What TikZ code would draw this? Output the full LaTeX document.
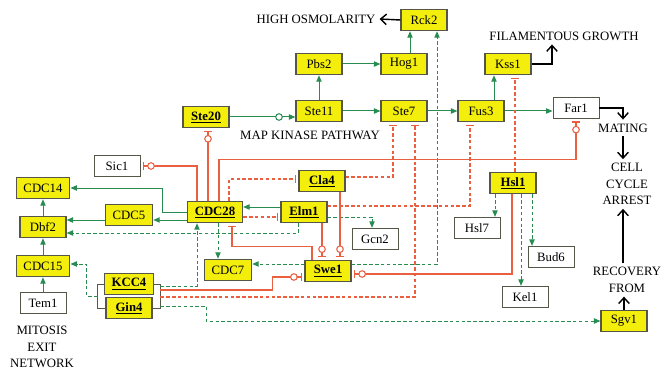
\documentclass[tikz,border=0pt]{standalone}
\usepackage{fontspec}
\setmainfont{Liberation Serif}
\usepackage{tikz}
\usetikzlibrary{positioning, calc, arrows.meta, decorations.markings}
\definecolor{genyellow}{RGB}{244,238,12}
\definecolor{boxgray}{RGB}{85,85,72}
\definecolor{actgreen}{RGB}{40,140,80}
\definecolor{inhred}{RGB}{235,95,65}
\newcommand{\ulgene}[1]{\underline{\textbf{#1}}}
\tikzstyle{ybox} = [rectangle, draw=boxgray, line width=1pt, fill=genyellow, minimum width=1.38cm, minimum height=0.64cm, inner xsep=0.22cm, inner ysep=0pt]
\tikzstyle{wbox} = [ybox, fill=white, line width=0.8pt]
\tikzstyle{lbl} = [align=center]
\tikzstyle{act} = [color=actgreen, line width=0.85pt, -{Triangle[length=5.5pt,width=4.5pt]}]
\tikzstyle{actd} = [act, dash pattern=on 3pt off 2pt]
\tikzstyle{actc} = [act, postaction={decorate}, decoration={markings, mark=at position -14pt with {\draw[actgreen, fill=white, solid] (0,0) circle (2.8pt);}}]
\tikzstyle{inh} = [color=inhred, line width=0.9pt, -{Bar[width=6pt]}, shorten >=2pt]
\tikzstyle{inhd} = [inh, dash pattern=on 3pt off 2pt]
\tikzstyle{inhc} = [inh, postaction={decorate}, decoration={markings, mark=at position -9pt with {\draw[inhred, fill=white, solid] (0,0) circle (2.8pt);}}]
\tikzstyle{outarrow} = [black, line width=1.2pt, -{Straight Barb[length=5pt,width=9pt]}]
\tikzstyle{brk} = [boxgray, line width=0.8pt]

\begin{document}
\begin{tikzpicture}[x=0.03cm, y=-0.03cm, font=\fontsize{10.9}{14}\selectfont]
	\useasboundingbox (0,0) rectangle (665,373);

	% MAP kinase part
	\node [ybox] (rck2) at (424,20) {Rck2};
	\node [ybox] (pbs2) at (319,64) {Pbs2};
	\node [ybox] (hog1) at (404,64) {Hog1};
	\node [ybox] (ste11) at (319,111) {Ste11};
	\node [ybox] (ste7) at (404,111) {Ste7};
	\node [ybox] (fus3) at (481,111) {Fus3};
	\node [ybox] (kss1) at (508,64) {Kss1};
	\node [wbox] (far1) at (576,108) {Far1};
	\node [ybox] (ste20) at (206,117) {\ulgene{Ste20}};
	\node [lbl] (hiosm) at (316,19) {HIGH OSMOLARITY};
	\node [lbl] (filgr) at (564,36) {FILAMENTOUS GROWTH};
	\node [lbl] (mapk) at (310,135) {MAP KINASE PATHWAY};

	% cell cycle part
	\node [wbox] (sic1) at (117,166) {Sic1};
	\node [ybox] (cla4) at (322,181) {\ulgene{Cla4}};
	\node [ybox] (cdc28) at (215,212) {\ulgene{CDC28}};
	\node [ybox] (elm1) at (304,212) {\ulgene{Elm1}};
	\node [ybox] (hsl1) at (513,183) {\ulgene{Hsl1}};
	\node [ybox] (cdc5) at (129,215) {CDC5};
	\node [wbox] (hsl7) at (477,228) {Hsl7};
	\node [wbox] (gcn2) at (375,239) {Gcn2};
	\node [wbox] (bud6) at (551,257) {Bud6};
	\node [ybox] (cdc7) at (228,270) {CDC7};
	\node [ybox] (swe1) at (328,271) {\ulgene{Swe1}};
	\node [ybox] (kcc4) at (129,284) {\ulgene{KCC4}};
	\node [ybox] (gin4) at (129,308) {\ulgene{Gin4}};
	\node [wbox] (kel1) at (525,297) {Kel1};
	\node [ybox] (sgv1) at (624,321) {Sgv1};

	% mitosis exit network
	\node [ybox] (cdc14) at (43,188) {CDC14};
	\node [ybox] (dbf2) at (43,227) {Dbf2};
	\node [ybox] (cdc15) at (43,266) {CDC15};
	\node [wbox] (tem1) at (43,303) {Tem1};
	\node [lbl] (mitosis) at (42,347) {MITOSIS\\EXIT\\NETWORK};

	% outcomes
	\node [lbl] (mating) at (623,128) {MATING};
	\node [lbl] (arrest) at (627,184) {CELL\\CYCLE\\ARREST};
	\node [lbl] (recov) at (627,280) {RECOVERY\\FROM};

	\coordinate (bkl) at ($(kcc4.west)+(-6,0)$);
	\coordinate (bkr) at ($(kcc4.east)+(6,0)$);
	\draw[brk] (kcc4.west) -- (bkl) |- (gin4.west);
	\draw[brk] (kcc4.east) -- (bkr) |- (gin4.east);

	\draw[actc] (ste20.east) -- (ste20.east -| ste11.west);
	\draw[act] (ste11) -- (pbs2);
	\draw[act] (pbs2) -- (hog1);
	\draw[act] ($(hog1.north)+(6,0)$) -- ($(rck2.south)+(-14,0)$);
	\draw[act] (ste11) -- (ste7);
	\draw[act] (ste7) -- (fus3);
	\draw[act] ($(fus3.north)+(13,0)$) -- ($(kss1.south)+(-14,0)$);
	\draw[act] (fus3.east) -- (fus3.east -| far1.west);

	\draw[act] (cdc28.west) -- (162,212) |- (cdc14);
	\draw[act] ($(cdc28.west)+(0,8)$) -- ($(cdc5.east)+(0,5)$);
	\draw[act] ($(cdc5.west)+(0,5)$) -- ($(dbf2.east)+(0,-7)$);
	\draw[act] (dbf2) -- (cdc14);
	\draw[act] (cdc15) -- (dbf2);
	\draw[act] (tem1) -- (cdc15);
	\draw[act] ($(elm1.west)+(0,-5)$) -- ($(cdc28.east)+(0,-5)$);

	\draw[actd] ($(elm1.south)+(-6,0)$) |- ($(dbf2.east)+(0,6)$);
	\draw[actd] ($(elm1.east)+(0,5)$) -| ($(gcn2.north)+(-3,0)$);
	\draw[actd] ($(cdc28.south)+(3,0)$) -- ($(cdc7.north)+(-10,0)$);
	\draw[actd] ($(hsl1.south)+(-18,0)$) -- ($(hsl7.north)+(18,0)$);
	\draw[actd] ($(hsl1.south)+(8,0)$) -- ($(kel1.north)+(-4,0)$);
	\draw[actd] ($(hsl1.south)+(19,0)$) -- ($(bud6.north)+(-19,0)$);
	\draw[actd] ($(swe1.west)+(0,-7)$) -- ($(cdc7.east)+(0,-6)$);
	\draw[actd] ($(swe1.east)+(0,-7)$) -| ($(rck2.south)+(13,0)$);
	\draw[actd] ($(bkr)+(0,2)$) -| ($(cdc28.south)+(-18,0)$);
	\draw[actd] ($(bkl)+(0,12)$) -- ++(-11,0) |- ($(cdc15.east)+(0,-2)$);
	\draw[actd] ($(bkr)+(0,22)$) -- ++(46,0) |- (sgv1.west);

	\draw[inhc] ($(cdc28.north)+(-7,0)$) -- ($(ste20.south)+(2,0)$);
	\draw[inhc] ($(cdc28.north)+(-18,0)$) |- (sic1.east);
	\draw[inhc] ($(cdc28.north)+(4,0)$) -- ++(0,-41) -| (far1.south);
	\draw[inhc] ($(cla4.south)+(18,0)$) -- ($(swe1.north)+(12,0)$);
	\draw[inhc] ($(elm1.south)+(18,0)$) -- ($(swe1.north)+(-6,0)$);
	\draw[inhc] ($(hsl1.south)+(-1,0)$) |- ($(swe1.east)+(0,3)$);
	\draw[inhc] ($(bkr)+(0,6)$) -- ++(112,0) |- ($(swe1.west)+(0,6)$);
	\draw[inh] ($(swe1.north)+(-16,0)$) -- ++(0,-13) -| ($(cdc28.south)+(17,0)$);

	\draw[inhd] ($(cdc28.east)+(0,5)$) -- ($(elm1.west)+(0,5)$);
	\draw[inhd] ($(cdc28.north)+(14,0)$) |- ($(cla4.west)+(0,-2)$);
	\draw[inhd] ($(cla4.east)+(0,-4)$) -| ($(ste7.south)+(-11,0)$);
	\draw[inhd] ($(elm1.east)+(0,-6)$) -| ($(fus3.south)+(-11,0)$);
	\draw[inhd] ($(bkr)+(0,13)$) -| ($(ste7.south)+(11,0)$);
	\draw[inhd] ($(hsl1.north)+(2,0)$) -- ($(kss1.south)+(7,0)$);

	\draw[outarrow] (rck2.west) -- (hiosm.east);
	\draw[outarrow] (kss1.east) -| ($(filgr.south)+(-12,0)$);
	\draw[outarrow] (far1.east) -| (mating.north);
	\draw[outarrow] (mating.south) -- (mating.south |- arrest.north);
	\draw[outarrow] (recov.north -| mating) -- (arrest.south -| mating);
	\draw[outarrow] (sgv1.north) -- (sgv1.north |- recov.south);

\end{tikzpicture}
\end{document}
